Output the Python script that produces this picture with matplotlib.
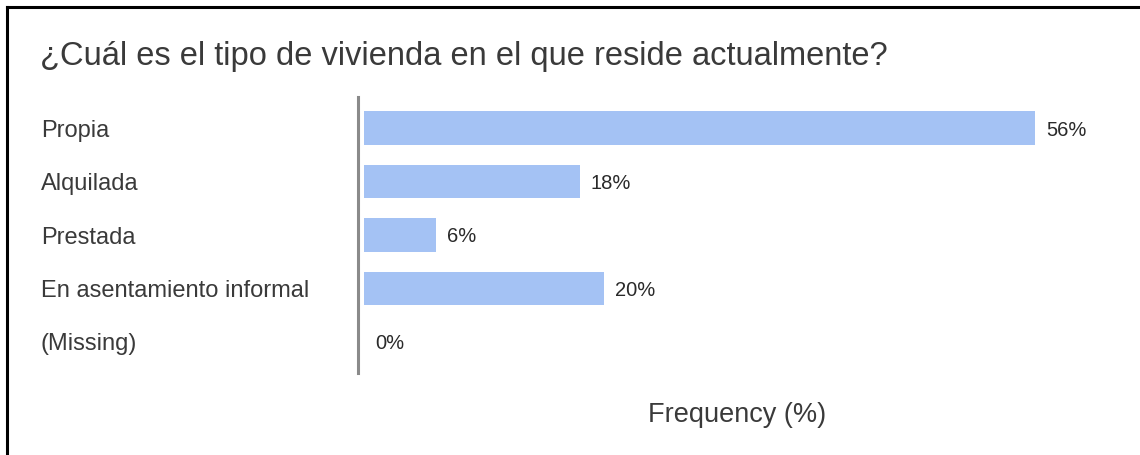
import matplotlib
matplotlib.use("Agg")
import matplotlib.pyplot as plt
from matplotlib.lines import Line2D

categories = ["Propia", "Alquilada", "Prestada", "En asentamiento informal", "(Missing)"]
values = [56, 18, 6, 20, 0]
value_labels = ["56%", "18%", "6%", "20%", "0%"]
title = "¿Cuál es el tipo de vivienda en el que reside actualmente?"
xlabel = "Frequency (%)"

W, H, DPI = 1140, 455, 100
fig = plt.figure(figsize=(W / DPI, H / DPI), dpi=DPI)
fig.patch.set_facecolor("white")

plt.rcParams["font.family"] = ["Liberation Sans", "DejaVu Sans"]

# axes box in pixels
ax_left, ax_right, ax_top, ax_bottom = 358, 1110, 97, 373
ax = fig.add_axes([ax_left / W, 1 - ax_bottom / H, (ax_right - ax_left) / W, (ax_bottom - ax_top) / H])

px_per_unit = (1035 - 364) / 56.0
x0 = -(364 - ax_left) / px_per_unit
x1 = (ax_right - 364) / px_per_unit
ax.set_xlim(x0, x1)

ypos = list(range(len(categories)))
ax.barh(ypos, values, height=0.62, color="#a4c2f4", left=0)
ax.set_ylim(4.58, -0.58)

for y, v, lab in zip(ypos, values, value_labels):
    ax.annotate(lab, (v, y), xytext=(11, 0), textcoords="offset pixels",
                ha="left", va="center_baseline", fontsize=14.5, color="#2a2a2a")

ax.set_yticks(ypos)
ax.set_yticklabels(categories, ha="left", fontsize=17, color="#3a3a3a")
ax.tick_params(axis="y", length=0, pad=(ax_left - 41) / DPI * 72)
ax.set_xticks([])
for s in ["top", "right", "bottom"]:
    ax.spines[s].set_visible(False)
ax.spines["left"].set_color("#8a8a8a")
ax.spines["left"].set_linewidth(2.2)

fig.text(40 / W, 1 - 65 / H, title, ha="left", va="baseline", fontsize=23.5, color="#3a3a3a")
fig.text(737 / W, 1 - 422 / H, xlabel, ha="center", va="baseline", fontsize=19.5, color="#3a3a3a")

# frame lines along the top and left edges
fig.add_artist(Line2D([7 / W, 1], [1 - 7 / H, 1 - 7 / H], transform=fig.transFigure, color="black", lw=2.2))
fig.add_artist(Line2D([7 / W, 7 / W], [0, 1 - 7 / H], transform=fig.transFigure, color="black", lw=2.2))

fig.savefig("out.png", dpi=DPI, facecolor="white")
